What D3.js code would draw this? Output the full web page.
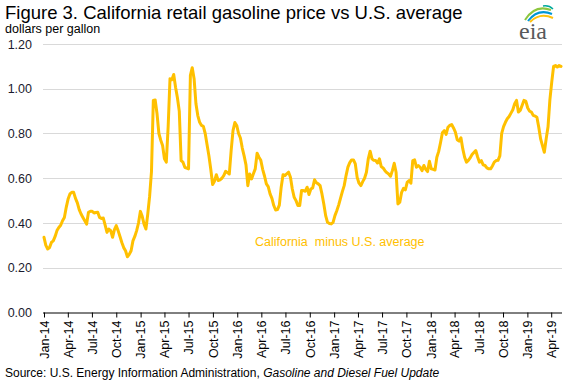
<!DOCTYPE html>
<html>
<head>
<meta charset="utf-8">
<script src="https://cdn.jsdelivr.net/npm/d3@7"></script>
<style>
  html, body { margin: 0; padding: 0; background: #fff; }
  svg { display: block; font-family: "Liberation Sans", Arial, sans-serif; }
</style>
</head>
<body>
<svg id="chart" width="576" height="384"></svg>
<script>
// ---- data ----
const titleText = "Figure 3. California retail gasoline price vs U.S. average";
const unitText = "dollars per gallon";
const seriesName = "California  minus U.S. average";
const sourcePlain = "Source: U.S. Energy Information Administration, ";
const sourceItalic = "Gasoline and Diesel Fuel Update";

const startDate = "2014-01-06";   // first weekly observation
const weekStep = 7;                // days between observations

// California minus U.S. average retail gasoline price, $/gal, weekly
const spread = [
  // 2014
  0.336,0.30,0.284,0.29,0.313,0.32,0.34,0.366,0.38,0.39,0.41,0.425,0.47,0.507,0.53,0.537,
  0.537,0.51,0.49,0.46,0.44,0.425,0.41,0.395,0.448,0.452,0.452,0.445,0.447,0.448,0.425,0.42,
  0.422,0.39,0.358,0.373,0.366,0.336,0.37,0.388,0.366,0.34,0.313,0.29,0.276,0.249,0.26,0.276,
  0.32,0.34,0.366,0.40,
  // 2015
  0.452,0.43,0.395,0.373,0.44,0.52,0.63,0.948,0.95,0.888,0.80,0.77,0.746,0.687,0.672,0.83,
  1.045,1.04,1.064,1.007,0.96,0.90,0.679,0.672,0.649,0.645,0.642,1.06,1.094,1.045,0.933,0.88,
  0.85,0.836,0.832,0.80,0.75,0.70,0.64,0.572,0.587,0.616,0.59,0.593,0.60,0.612,0.631,0.625,
  0.619,0.724,0.813,0.849,
  // 2016
  0.836,0.80,0.78,0.735,0.70,0.66,0.567,0.619,0.597,0.62,0.642,0.712,0.694,0.68,0.64,0.61,
  0.575,0.563,0.53,0.51,0.478,0.458,0.46,0.48,0.56,0.616,0.612,0.62,0.627,0.604,0.552,0.515,
  0.50,0.478,0.478,0.545,0.545,0.542,0.56,0.527,0.552,0.557,0.593,0.58,0.575,0.567,0.53,0.485,
  0.433,0.403,0.398,0.396,
  // 2017
  0.403,0.433,0.455,0.48,0.51,0.54,0.567,0.612,0.65,0.67,0.682,0.682,0.664,0.604,0.578,0.567,
  0.585,0.60,0.627,0.687,0.721,0.687,0.68,0.679,0.668,0.687,0.652,0.646,0.634,0.625,0.619,0.609,
  0.634,0.667,0.627,0.485,0.493,0.537,0.555,0.548,0.582,0.59,0.578,0.679,0.682,0.649,0.657,0.649,
  0.634,0.657,0.64,0.63,
  // 2018
  0.676,0.642,0.64,0.637,0.694,0.72,0.76,0.803,0.813,0.796,0.828,0.836,0.84,0.825,0.806,0.772,
  0.766,0.781,0.731,0.694,0.672,0.68,0.691,0.706,0.715,0.724,0.695,0.672,0.679,0.66,0.657,0.646,
  0.642,0.642,0.655,0.672,0.679,0.68,0.70,0.801,0.831,0.85,0.866,0.876,0.891,0.906,0.933,0.948,
  0.896,0.903,0.925,0.948,
  // 2019
  0.945,0.915,0.90,0.896,0.881,0.878,0.873,0.828,0.776,0.746,0.716,0.776,0.83,0.95,1.03,1.10,
  1.104,1.097,1.104,1.10
];

const tickLabels = ["Jan-14","Apr-14","Jul-14","Oct-14","Jan-15","Apr-15","Jul-15","Oct-15",
  "Jan-16","Apr-16","Jul-16","Oct-16","Jan-17","Apr-17","Jul-17","Oct-17",
  "Jan-18","Apr-18","Jul-18","Oct-18","Jan-19","Apr-19"];
const yTickValues = [0, 0.2, 0.4, 0.6, 0.8, 1.0, 1.2];

// ---- build ----
const parse = d3.utcParse("%Y-%m-%d");
const t0 = parse(startDate);
const data = spread.map((v, i) => ({ date: d3.utcDay.offset(t0, i * weekStep), value: v }));
const tickDates = tickLabels.map((_, i) => d3.utcMonth.offset(t0, 3 * i));

const svg = d3.select("#chart");
const plotLeft = 44, plotRight = 561, plotTop = 44, plotBottom = 312.5;

const x = d3.scaleUtc().domain(d3.extent(data, d => d.date)).range([plotLeft, plotRight]);
const y = d3.scaleLinear().domain([0, 1.2]).range([plotBottom, plotTop]);

// gridlines
svg.append("g")
  .selectAll("line")
  .data(yTickValues.filter(v => v > 0))
  .join("line")
  .attr("x1", plotLeft - 1).attr("x2", plotRight + 1)
  .attr("y1", d => Math.round(y(d)) + 0.5).attr("y2", d => Math.round(y(d)) + 0.5)
  .attr("stroke", "#d9d9d9").attr("stroke-width", 1);

// y labels
const yAxis = d3.axisLeft(y).tickValues(yTickValues).tickFormat(d3.format(".2f")).tickSize(0).tickPadding(0);
const gy = svg.append("g").attr("transform", `translate(${plotLeft - 12},0)`).call(yAxis);
gy.select(".domain").remove();
gy.selectAll("text").attr("font-size", 12.5).attr("fill", "#1a1a2e")
  .attr("font-family", '"Liberation Sans", Arial, sans-serif');

// x axis
const xAxis = d3.axisBottom(x).tickValues(tickDates)
  .tickFormat((d, i) => tickLabels[i]).tickSize(5).tickPadding(8);
const gx = svg.append("g").attr("transform", `translate(0,${plotBottom})`).call(xAxis);
gx.select(".domain").attr("d", `M${plotLeft - 1},0.5H${plotRight + 1}`).attr("stroke", "#000");
gx.selectAll(".tick line").attr("stroke", "#000");
gx.selectAll("text")
  .attr("font-size", 12.5).attr("fill", "#000")
  .attr("font-family", '"Liberation Sans", Arial, sans-serif')
  .attr("transform", "rotate(-90)")
  .attr("text-anchor", "end")
  .attr("x", -8).attr("y", 0).attr("dy", "0.35em");

// line
svg.append("path")
  .datum(data)
  .attr("fill", "none")
  .attr("stroke", "#ffc000")
  .attr("stroke-width", 3)
  .attr("stroke-linejoin", "round")
  .attr("stroke-linecap", "round")
  .attr("d", d3.line().x(d => x(d.date)).y(d => y(d.value)));

// series label
svg.append("text")
  .attr("x", 255).attr("y", 246)
  .attr("font-size", 12.5).attr("fill", "#ffc000")
  .style("white-space", "pre")
  .text(seriesName);

// title
svg.append("text").attr("x", 5).attr("y", 19)
  .attr("font-size", 18.5).attr("fill", "#000").text(titleText);
svg.append("text").attr("x", 5).attr("y", 33)
  .attr("font-size", 12.5).attr("fill", "#000").text(unitText);

// source
const src = svg.append("text").attr("x", 5).attr("y", 377).attr("font-size", 12).attr("fill", "#000");
src.append("tspan").style("white-space", "pre").text(sourcePlain);
src.append("tspan").attr("font-style", "italic").text(sourceItalic);

// eia logo
const logo = svg.append("g").attr("transform", "translate(517,0)");
logo.append("path").attr("d", "M8,20 Q18,4 34,10").attr("fill", "none").attr("stroke", "#8dc63f").attr("stroke-width", 2);
logo.append("path").attr("d", "M11,21 Q21,8 35,14").attr("fill", "none").attr("stroke", "#0096d6").attr("stroke-width", 2);
logo.append("path").attr("d", "M13,22 Q23,12 36,18").attr("fill", "none").attr("stroke", "#ffc20e").attr("stroke-width", 2);
logo.append("path").attr("d", "M26,6 Q32,5 36,9").attr("fill", "none").attr("stroke", "#00a99d").attr("stroke-width", 1.5);
logo.append("text").attr("x", 2).attr("y", 39)
  .attr("font-family", '"Liberation Serif", "DejaVu Serif", serif')
  .attr("font-size", 24).attr("fill", "#58595b").text("eia");
</script>
</body>
</html>
